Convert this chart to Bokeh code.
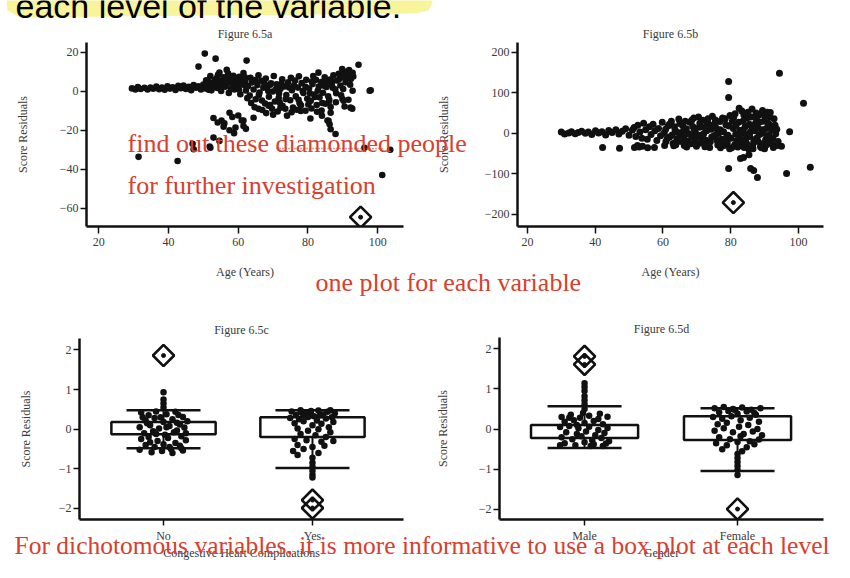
import numpy as np
from bokeh.plotting import figure
from bokeh.models import Range1d, FixedTicker, Label, GridBox, ColumnDataSource, Whisker, TeeHead
from bokeh.embed import file_html
from bokeh.resources import INLINE

# ------------------------------------------------------------------ data
# Figure 6.5a : age vs score residuals
pts_a = [
    (29.5,1.5),(30.5,1.0),(31.2,2.2),(32.0,1.2),(33.1,1.8),(34.0,0.9),(34.8,2.0),(35.6,1.3),(36.5,2.4),(37.3,1.1),
    (38.1,1.9),(38.9,0.8),(39.7,2.6),(40.4,1.4),(41.2,2.1),(42.0,0.7),(42.8,2.8),(43.5,1.6),(44.3,3.0),(45.0,1.2),
    (45.8,2.3),(46.5,0.6),(47.2,3.2),(47.9,1.8),(48.6,2.6),(49.3,0.9),(50.0,3.5),(50.6,1.5),
    (51.2,2.8),(51.8,4.6),(52.3,0.5),(52.9,3.4),(53.4,5.8),(54.0,1.7),(54.5,3.9),(55.1,0.2),(55.6,5.1),(56.2,2.4),
    (56.7,4.2),(57.3,-0.8),(57.8,6.3),(58.4,3.0),(58.9,1.0),(59.5,4.8),(60.0,2.1),(60.6,-1.5),(61.1,5.5),(61.7,3.3),
    (62.2,0.4),(52.0,7.8),(54.2,8.5),(55.8,7.2),(57.1,9.1),(58.6,8.0),(60.3,7.5),(61.5,9.4),
    (50.8,5.7),(52.6,1.9),(53.9,7.0),(55.3,2.9),(56.4,6.9),(57.9,1.4),(59.1,6.7),(60.8,4.0),(61.9,7.2),(51.5,0.8),
    (54.8,5.2),(58.0,4.7),(60.2,0.9),(62.0,5.0),
    (62.8,2.6),(63.3,-2.2),(63.9,4.5),(64.4,0.9),(65.0,-4.1),(65.5,3.2),(66.1,-0.6),(66.6,5.4),(67.2,1.8),(67.7,-6.3),
    (68.3,2.9),(68.8,-2.8),(69.4,4.1),(69.9,-0.1),(70.5,-5.2),(71.0,3.6),(71.6,-3.4),(72.1,1.2),(72.7,-7.5),(73.2,2.5),
    (73.8,-1.9),(74.3,4.7),(74.9,-4.6),(75.4,0.6),(76.0,3.0),(76.5,-2.6),(77.1,1.9),(77.6,-6.1),(78.2,4.2),(78.7,-0.9),
    (79.3,2.3),(79.8,-3.8),(63.5,7.0),(65.8,8.3),(67.9,6.6),(70.2,7.9),(72.6,6.2),(75.1,6.9),(77.4,7.7),
    (64.7,-8.2),(66.9,-9.6),(69.1,-7.1),(71.3,-10.4),(73.5,-9.0),(75.7,-8.4),(77.9,-10.1),(70.0,-12.0),(74.0,-12.5),(68.0,-11.2),
    (62.6,-3.5),(63.7,-6.0),(64.9,5.8),(65.9,-1.9),(66.8,-4.7),(67.5,4.0),(68.6,0.2),(69.7,-9.0),(70.8,1.0),(71.9,-5.8),
    (72.4,3.9),(73.6,-4.0),(74.6,2.0),(75.3,-10.8),(76.3,5.6),(77.3,-4.3),(78.5,0.1),(79.5,5.9),(80.1,-6.8),(81.1,5.0),
    (82.0,-2.9),(83.1,2.4),(84.1,-6.0),(85.1,4.4),(86.1,-4.4),(87.1,1.8),(88.1,-1.0),(89.1,6.4),(90.1,1.2),(91.1,6.9),
    (92.1,3.4),(93.0,7.6),(91.9,9.8),(89.8,11.5),(87.0,5.2),(84.6,2.9),(82.6,-10.5),(80.6,-1.1),(78.0,-7.2),(76.8,-9.5),
    (71.7,-1.3),(69.2,3.4),
    (80.3,1.4),(80.8,-4.9),(81.3,3.7),(81.8,-1.6),(82.3,5.9),(82.8,0.3),(83.3,-3.1),(83.8,4.8),(84.3,-0.7),(84.8,7.2),
    (85.3,2.2),(85.8,-2.5),(86.3,6.1),(86.8,3.4),(87.3,8.3),(87.8,1.1),(88.3,5.6),(88.8,9.0),(89.3,3.0),(89.8,7.4),
    (90.3,10.2),(90.8,4.6),(91.3,8.6),(91.8,11.0),(92.3,6.3),(92.8,9.5),
    (81.0,-8.8),(82.5,-7.0),(83.9,-9.9),(85.0,-6.4),(84.0,-12.6),(86.5,-8.1),(88.0,-5.6),(89.5,-2.0),(90.5,-7.8),(91.6,-4.3),
    (81.5,7.9),(83.0,9.6),
    (50.4,19.4),(53.5,16.8),(48.6,12.7),(54.6,9.6),(56.7,11.0),(62.4,15.8),(94.5,13.7),(97.7,0.3),(92.8,0.3),(92.2,-8.4),
    (89.9,-4.0),(85.9,-5.9),(86.5,-11.0),(85.6,-15.0),(86.2,-16.9),(87.9,-21.9),(80.7,-14.0),(79.3,-10.0),(64.4,-13.6),(61.5,-15.0),
    (61.5,-17.8),(65.8,-9.0),(68.7,-7.4),(72.1,-8.4),(52.9,-13.7),(55.2,-15.0),(57.5,-11.0),(61.0,-15.0),(57.5,-20.0),(56.0,-16.5),
    (58.3,-13.2),(59.2,-18.6),(55.8,-18.2),(54.1,-16.0),(58.8,-21.5),(62.2,-19.3),(60.0,-12.4),
    (31.4,-33.7),(42.6,-35.8),(101.3,-43.0),(103.6,-30.0),(52.9,-23.8),(46.9,-27.0),(52.0,-29.0),(47.2,-29.8),(51.8,-28.4),(54.6,-25.5),
    (96.2,-29.0),(98.0,0.5),(90.2,-4.9),(92.7,-8.9),(85.9,-15.2),(86.5,-19.5),
]
flag_a = [(95.1, -64.7)]

# Figure 6.5b : age vs score residuals
pts_b = [
    (30.0,3),(31.0,-2),(32.2,1),(33.0,4),(34.1,-1),(35.0,2),(36.0,5),(37.1,0),(38.0,3),(39.0,-3),
    (40.1,6),(41.0,1),(42.0,4),(43.1,-4),(44.0,7),(45.0,2),(46.1,9),(47.0,-2),(48.0,5),(49.0,11),(50.0,-5),(51.0,8),
    (42.2,-35),(47.2,-37),(51.6,-35),(54.0,-32),(57.5,-35),(60.5,-30),(53.0,-34),(55.5,-36),(52.5,-30),
    (51.5,14),(52.0,-8),(52.6,20),(53.2,3),(53.8,-12),(54.3,25),(54.9,9),(55.4,-15),(56.0,16),(56.5,-3),
    (57.1,22),(57.6,6),(58.2,-18),(58.7,12),(59.3,-6),(59.8,27),(60.4,1),(60.9,-20),(61.5,18),(62.0,-9),
    (62.5,30),(63.0,-25),(63.6,8),(64.1,-14),(64.7,35),(65.2,-4),(65.8,19),(66.3,-30),(66.9,11),(67.4,-19),
    (68.0,27),(68.5,-8),(69.1,38),(69.6,2),(70.2,-27),(70.7,15),(71.3,-12),(71.8,32),(72.4,-33),(72.9,6),
    (73.5,22),(74.0,-21),(74.6,42),(75.1,-6),(75.7,13),(76.2,-29),(76.8,29),(77.3,-15),(77.9,4),(78.4,36),
    (79.0,-24),(79.5,18),(63.2,-31),(65.0,24),(67.0,-34),(68.8,17),(70.5,40),(72.0,-2),(73.8,-35),(75.5,33),
    (77.0,-36),(78.8,-10),(66.0,5),(69.5,-17),(71.5,-24),(74.2,10),(76.5,1),(64.0,-22),(73.0,26),(79.8,44),
    (80.3,-36),(80.8,12),(81.3,48),(81.8,-18),(82.3,27),(82.8,-7),(83.3,55),(83.8,-28),(84.3,16),(84.8,38),
    (85.3,-39),(85.8,3),(86.3,60),(86.8,-22),(87.3,24),(87.8,-11),(88.3,45),(88.8,-33),(89.3,9),(89.8,30),
    (90.3,-16),(90.8,52),(91.3,-4),(91.8,19),(92.3,-27),(92.8,36),(93.3,-1),(93.8,-30),
    (80.5,30),(81.5,-2),(82.5,62),(83.5,8),(84.5,-14),(85.5,22),(86.5,-30),(87.5,50),(88.5,-3),(89.5,-26),
    (90.5,12),(91.5,40),(92.5,-12),(84.0,-35),(86.0,40),(88.0,14),(90.0,-38),(82.0,-26),
    (60.8,10),(61.3,-12),(61.9,22),(62.7,-4),(63.4,16),(64.4,2),(65.5,-20),(66.6,30),(67.7,-1),(68.2,-26),
    (69.3,9),(69.9,-32),(70.9,25),(71.1,-5),(72.2,14),(72.7,-17),(73.3,36),(74.4,-9),(74.8,20),(75.9,-2),
    (76.0,-18),(76.9,9),(77.6,38),(78.1,-30),(78.6,21),(79.2,-5),(79.7,-38),(80.1,-12),(80.9,40),(81.6,20),
    (82.1,-34),(82.7,7),(83.1,-19),(83.6,30),(84.1,0),(84.7,-25),(85.1,52),(85.6,-8),(86.1,18),(86.6,-38),
    (87.1,6),(87.6,35),(88.1,-20),(88.6,28),(89.1,-36),(89.6,0),(90.1,42),(90.6,-28),(91.1,25),(91.6,-20),
    (92.1,8),(92.6,-35),(93.1,20),(93.6,10),(94.0,-20),(63.8,-28),(66.2,-10),(68.5,32),(70.0,-8),(72.9,-26),
    (75.3,24),(77.5,-24),(81.2,-28),(83.9,45),(86.9,-16),(88.9,48),(90.9,-8),
    (79.4,128),(79.4,88),(94.4,148),(101.5,74),(97.4,4),(79.4,-87),(83.8,-60),(85.4,-53),(85.9,-87),(87.9,-109),
    (96.5,-99),(103.5,-84),(82.9,-62),(95.0,-32),(91.7,51),(89.4,56),(86.8,-92),
]
flag_b = [(80.8, -171)]

x_ticks_age = [20, 40, 60, 80, 100]
y_ticks_a = [-60, -40, -20, 0, 20]
y_ticks_b = [-200, -100, 0, 100, 200]
y_ticks_box = [-2, -1, 0, 1, 2]

# Figure 6.5c : congestive heart complications
groups_c = ["No", "Yes"]
q1_c = [-0.13, -0.20]
q3_c = [0.18, 0.30]
low_c = [-0.48, -0.98]
up_c = [0.48, 0.48]
# (horizontal jitter, residual)
pts_c_no = [
    (-0.15,0.42),(-0.10,0.35),(-0.05,0.45),(0.02,0.38),(0.08,0.44),(0.13,0.31),(-0.12,0.22),(-0.06,0.28),(0.00,0.18),(0.06,0.25),
    (0.11,0.12),(0.16,0.20),(-0.16,0.05),(-0.09,0.10),(-0.03,0.02),(0.04,0.08),(0.09,-0.03),(0.14,0.04),(-0.13,-0.10),(-0.07,-0.05),
    (0.01,-0.14),(0.07,-0.08),(0.12,-0.18),(-0.15,-0.25),(-0.10,-0.20),(-0.04,-0.30),(0.03,-0.22),(0.08,-0.35),(0.15,-0.28),(-0.12,-0.40),
    (-0.06,-0.45),(0.00,-0.38),(0.05,-0.50),(0.11,-0.42),(-0.16,-0.52),(-0.08,-0.58),(-0.01,-0.55),(0.06,-0.60),(0.13,-0.54),(-0.11,0.15),
    (0.10,0.36),(-0.02,0.30),(0.15,-0.10),(-0.14,0.30),(0.04,-0.45),(-0.05,-0.12),(0.09,0.16),(-0.09,-0.33),(0.02,0.05),(0.12,-0.48),
    (0.0,0.55),(0.0,0.65),(0.0,0.75),(0.0,0.93),
]
pts_c_yes = [
    (-0.14,0.45),(-0.08,0.48),(-0.02,0.42),(0.04,0.47),(0.10,0.44),(0.15,0.40),(-0.11,0.36),(-0.05,0.39),(0.01,0.33),(0.07,0.37),
    (0.13,0.30),(-0.15,0.28),(-0.09,0.25),(-0.03,0.31),(0.03,0.22),(0.09,0.27),(0.14,0.18),(-0.12,0.15),(-0.06,0.20),(0.00,0.10),
    (0.06,0.14),(0.11,0.05),(-0.10,0.02),(-0.03,-0.04),(0.04,0.00),(0.12,-0.08),(-0.08,-0.12),(0.02,-0.15),(0.09,-0.20),(-0.12,-0.25),
    (-0.04,-0.28),(0.06,-0.32),(0.14,-0.30),(-0.10,-0.40),(0.00,-0.45),(0.08,-0.42),(-0.13,-0.55),(-0.06,-0.50),(0.04,-0.60),(-0.10,-0.65),
    (0.12,0.48),(-0.01,0.46),(0.05,0.35),(-0.07,0.41),
    (0.0,-0.72),(0.0,-0.85),(0.0,-0.95),(0.0,-1.05),(0.0,-1.15),(0.0,-1.22),
]
flag_c = [("No", 1.86), ("Yes", -1.79), ("Yes", -1.99)]

# Figure 6.5d : gender
groups_d = ["Male", "Female"]
q1_d = [-0.22, -0.27]
q3_d = [0.10, 0.32]
low_d = [-0.47, -1.04]
up_d = [0.57, 0.52]
pts_d_male = [
    (-0.15,0.30),(-0.09,0.36),(-0.03,0.28),(0.03,0.33),(0.09,0.25),(0.15,0.31),(-0.13,0.18),(-0.07,0.22),(0.00,0.15),(0.06,0.20),
    (0.12,0.12),(-0.16,0.05),(-0.10,0.08),(-0.04,0.02),(0.03,0.06),(0.09,-0.02),(0.15,0.03),(-0.12,-0.08),(-0.05,-0.12),(0.01,-0.06),
    (0.07,-0.15),(0.13,-0.10),(-0.15,-0.20),(-0.08,-0.25),(-0.02,-0.18),(0.05,-0.28),(0.11,-0.22),(0.16,-0.30),(-0.13,-0.35),(-0.06,-0.40),
    (0.00,-0.33),(0.06,-0.38),(0.12,-0.42),(-0.16,-0.40),(-0.10,0.28),(0.10,0.38),(-0.01,0.40),(0.14,-0.36),(-0.05,0.10),(0.04,-0.42),
    (0.0,0.50),(0.0,0.62),(0.0,0.72),(0.0,0.82),(0.0,0.95),(0.0,1.05),(0.0,1.14),
]
pts_d_female = [
    (-0.15,0.52),(-0.09,0.55),(-0.03,0.50),(0.03,0.54),(0.09,0.48),(0.15,0.52),(-0.12,0.42),(-0.06,0.45),(0.00,0.38),(0.06,0.44),
    (0.12,0.36),(-0.16,0.30),(-0.10,0.26),(-0.04,0.32),(0.02,0.22),(0.08,0.28),(0.14,0.18),(-0.13,0.12),(-0.07,0.16),(0.01,0.06),
    (0.07,0.10),(0.13,0.00),(-0.15,-0.04),(-0.09,0.02),(-0.03,-0.08),(0.04,-0.12),(0.10,-0.06),(0.16,-0.15),(-0.12,-0.20),(-0.05,-0.25),
    (0.02,-0.18),(0.08,-0.30),(0.14,-0.26),(-0.14,-0.35),(-0.07,-0.40),(0.00,-0.32),(0.06,-0.45),(0.11,-0.38),(-0.10,-0.50),(0.03,-0.55),
    (-0.02,0.48),(0.11,0.40),
    (0.0,-0.62),(0.0,-0.72),(0.0,-0.82),(0.0,-0.92),(0.0,-1.02),(0.0,-1.14),
]
flag_d = [("Male", 1.81), ("Male", 1.61), ("Female", -1.99)]

# annotation texts
note_top = "each level of the variable."
note_1 = "find out these diamonded people"
note_2 = "for further investigation"
note_3 = "one plot for each variable"
note_4 = "For dichotomous variables, it is more informative to use a box plot at each level"

# ------------------------------------------------------------------ style
SERIF = "Liberation Serif"
INK = "#111111"
GREY = "#3a3a3a"
RED = "#d8402e"


def base_fig(title, xr, yr, borders, fig_h=281):
    l, r, t, b = borders
    p = figure(width=417, height=fig_h, x_range=Range1d(*xr), y_range=Range1d(*yr),
               output_backend="svg", toolbar_location=None,
               min_border_left=l, min_border_right=r, min_border_top=t, min_border_bottom=b,
               background_fill_color="white", border_fill_color="white",
               outline_line_color=None)
    p.frame_align = False
    p.grid.visible = False
    p.title.text = title
    p.title.align = "center"
    p.title.text_font = SERIF
    p.title.text_font_size = "12px"
    p.title.text_font_style = "normal"
    p.title.text_color = GREY
    p.title.standoff = 3
    for ax in (p.xaxis[0], p.yaxis[0]):
        ax.axis_line_width = 2.5
        ax.axis_line_color = INK
        ax.major_tick_line_width = 1.5
        ax.major_tick_line_color = INK
        ax.minor_tick_line_color = None
        ax.major_tick_in = 0
        ax.major_label_text_font = SERIF
        ax.major_label_text_font_size = "12px"
        ax.major_label_text_color = GREY
        ax.axis_label_text_font = SERIF
        ax.axis_label_text_font_size = "12px"
        ax.axis_label_text_font_style = "normal"
        ax.axis_label_text_color = GREY
    p.xaxis.major_tick_out = 7
    p.xaxis.major_label_standoff = 4
    p.yaxis.major_tick_out = 6
    p.yaxis.major_label_standoff = 2
    return p


def flag(p, xs, ys):
    p.scatter(xs, ys, marker="square", angle=np.pi / 4, size=15,
              fill_color=None, line_color=INK, line_width=2.6)
    p.scatter(xs, ys, size=4, color=INK)


def scatter_panel(title, pts, flg, xr, yr, yticks, borders, ylab_standoff, dot):
    p = base_fig(title, xr, yr, borders)
    p.xaxis.ticker = FixedTicker(ticks=x_ticks_age)
    p.yaxis.ticker = FixedTicker(ticks=yticks)
    p.xaxis.axis_label = "Age (Years)"
    p.yaxis.axis_label = "Score Residuals"
    p.xaxis.axis_label_standoff = 16
    p.yaxis.axis_label_standoff = ylab_standoff
    src = ColumnDataSource(dict(age=[a for a, _ in pts], res=[r for _, r in pts]))
    p.scatter("age", "res", source=src, size=dot, color=INK, line_width=0)
    flag(p, [a for a, _ in flg], [r for _, r in flg])
    return p


def box_panel(title, groups, q1, q3, low, up, pts_groups, flg, xlabel, xr, yr, borders, ylab_standoff):
    p = base_fig(title, xr, yr, borders)
    pos = list(range(1, len(groups) + 1))
    p.xaxis.ticker = FixedTicker(ticks=pos)
    p.xaxis.major_label_overrides = {k: g for k, g in zip(pos, groups)}
    p.yaxis.ticker = FixedTicker(ticks=y_ticks_box)
    p.xaxis.major_tick_out = 6
    p.xaxis.major_label_standoff = 3
    p.xaxis.axis_label = xlabel
    p.yaxis.axis_label = "Score Residuals"
    p.xaxis.axis_label_standoff = 0
    p.yaxis.axis_label_standoff = ylab_standoff
    wsrc = ColumnDataSource(dict(x=pos, lower=low, upper=up))
    w = Whisker(base="x", lower="lower", upper="upper", source=wsrc, dimension="height",
                line_color=INK, line_width=2,
                lower_head=TeeHead(size=74, line_width=2.5, line_color=INK),
                upper_head=TeeHead(size=74, line_width=2.5, line_color=INK),
                level="underlay")
    p.add_layout(w)
    p.vbar(x=pos, width=0.70, bottom=q1, top=q3, fill_color="white", line_color=INK, line_width=2.5)
    for k, pts in zip(pos, pts_groups):
        p.scatter([k + dx for dx, _ in pts], [v for _, v in pts], size=6.5, color=INK, line_width=0)
    idx = {g: k for k, g in zip(pos, groups)}
    flag(p, [idx[g] for g, _ in flg], [v for _, v in flg])
    return p


pa = scatter_panel("Figure 6.5a", pts_a, flag_a, (16.47, 107.4), (-69.5, 25.1), y_ticks_a, (86, 14, 42, 54), 27, 6.6)
pb = scatter_panel("Figure 6.5b", pts_b, flag_b, (17.08, 107.4), (-230, 224), y_ticks_b, (100, 11, 42, 55), 31, 7.0)
pc = box_panel("Figure 6.5c", groups_c, q1_c, q3_c, low_c, up_c, [pts_c_no, pts_c_yes], flag_c,
               "Congestive Heart Complications", (0.436, 2.611), (-2.28, 2.29), (79, 14, 57, 42), 23)
pd_ = box_panel("Figure 6.5d", groups_d, q1_d, q3_d, low_d, up_d, [pts_d_male, pts_d_female], flag_d,
                "Gender", (0.444, 2.562), (-2.25, 2.28), (82, 11, 56, 43), 26)

# ------------------------------------------------------------------ overlay with slide annotations
ov = figure(width=834, height=562, x_range=Range1d(0, 834), y_range=Range1d(562, 0),
            output_backend="svg", toolbar_location=None, min_border=0,
            x_axis_type=None, y_axis_type=None,
            background_fill_color=None, border_fill_color=None, outline_line_color=None)
ov.title = None
ov.frame_align = False
ov.grid.visible = False
hl_x = [5, 430, 432, 428, 415, 20, 7]
hl_y = [-8, -8, 2, 10, 13, 17, 10]
ov.patch(hl_x, hl_y, fill_color="#f8f49c", line_color=None)
ov.add_layout(Label(x=15, y=5, text=note_top, text_font="Liberation Sans", text_font_size="34px",
                    text_color="black", text_baseline="alphabetic"))
for (tx, ty, txt, fs) in [(127, 143, note_1, "26px"), (127, 185, note_2, "26px"),
                          (315, 282, note_3, "26px"), (14, 545, note_4, "25.5px")]:
    ov.add_layout(Label(x=tx, y=ty, text=txt, text_font=SERIF, text_font_size=fs,
                        text_color=RED, text_baseline="alphabetic"))
ov.line([276, 384], [148, 148], line_color=RED, line_width=1.5, line_dash="1 2")

grid = GridBox(children=[(pa, 0, 0), (pb, 0, 1), (pc, 1, 0), (pd_, 1, 1), (ov, 0, 0, 2, 2)], spacing=0)

open("out.html", "w").write(file_html(grid, INLINE))
